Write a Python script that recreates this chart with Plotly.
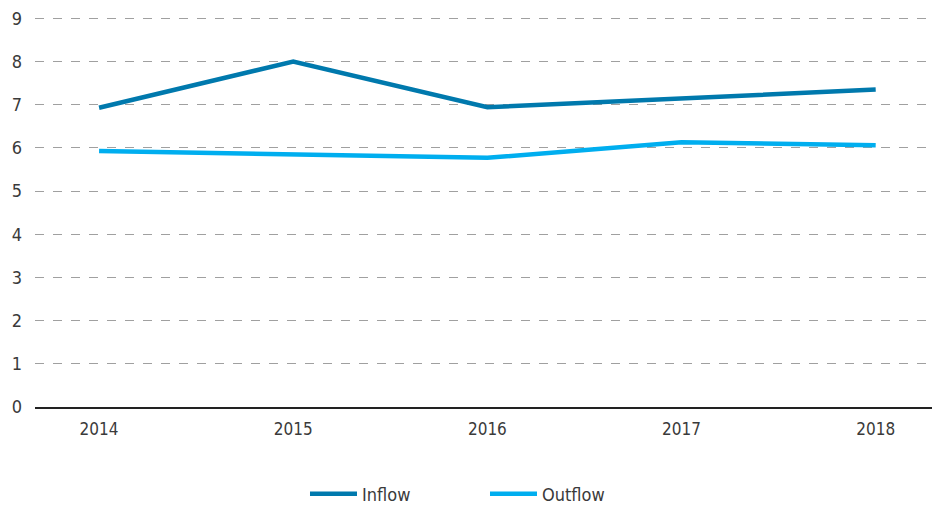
import plotly.graph_objects as go

years = [2014, 2015, 2016, 2017, 2018]
inflow = [6.93, 8.0, 6.94, 7.15, 7.35]
outflow = [5.93, 5.85, 5.77, 6.13, 6.06]

font_family = "Liberation Sans Narrow, DejaVu Sans Condensed, Roboto, sans-serif"

fig = go.Figure()
fig.add_trace(go.Scatter(x=years, y=inflow, name="Inflow", mode="lines",
                         line=dict(color="#0079ad", width=4.5)))
fig.add_trace(go.Scatter(x=years, y=outflow, name="Outflow", mode="lines",
                         line=dict(color="#00aeef", width=4.5)))

fig.update_layout(
    width=934, height=506,
    margin=dict(l=35, r=2, t=17, b=99, autoexpand=False),
    plot_bgcolor="#FFFFFF",
    paper_bgcolor="#FFFFFF",
    font=dict(family=font_family, size=17, color="#3a3a3a"),
    showlegend=True,
    legend=dict(orientation="h", x=0.301, xanchor="left", y=-0.223, yanchor="middle",
                font=dict(size=18, color="#3a3a3a"), itemwidth=47,
                entrywidth=118, entrywidthmode="pixels"),
    xaxis=dict(range=[2013.67, 2018.29], tickvals=years,
               ticktext=[str(y) for y in years], showgrid=False,
               zeroline=False, showline=True, linecolor="#222222", linewidth=2,
               ticks="", ticklabelstandoff=6, tickfont=dict(size=17),
               automargin=False),
    yaxis=dict(range=[0, 9.03], dtick=1, showgrid=True, gridcolor="#a0a0a0",
               griddash="dash", gridwidth=1, zeroline=False,
               ticks="", ticklabelstandoff=12, tickfont=dict(size=18),
               automargin=False),
)

# drop the default body margin so the figure fills the window exactly
fig.write_html("out.html", config={"displayModeBar": False},
               post_script="document.body.style.margin='0';")
